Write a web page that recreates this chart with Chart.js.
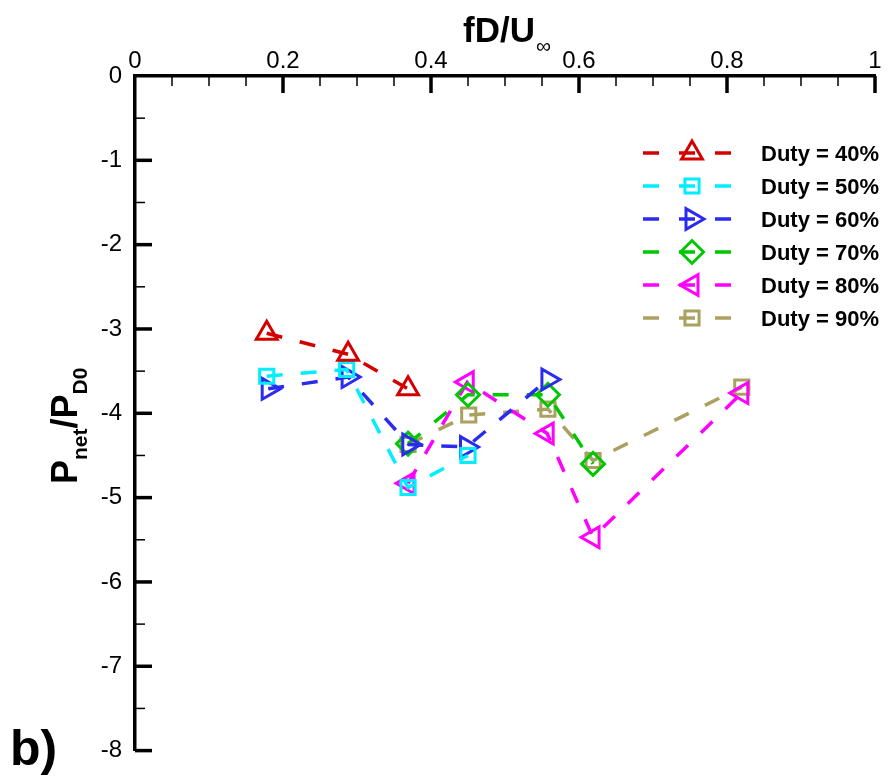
<!DOCTYPE html>
<html><head><meta charset="utf-8">
<script src="https://cdn.jsdelivr.net/npm/chart.js@4.4.1/dist/chart.umd.min.js"></script>
<style>html,body{margin:0;padding:0;background:#fff;}canvas{display:block;}</style>
</head><body>
<canvas id="c" width="890" height="778"></canvas>
<script>
// ---- data ----
const xTickValues = [0, 0.2, 0.4, 0.6, 0.8, 1];
const xTickLabels = ['0', '0.2', '0.4', '0.6', '0.8', '1'];
const yTickValues = [-8, -7, -6, -5, -4, -3, -2, -1, 0];
const yTickLabels = ['-8', '-7', '-6', '-5', '-4', '-3', '-2', '-1', '0'];
const seriesNames = ['Duty = 40%', 'Duty = 50%', 'Duty = 60%', 'Duty = 70%', 'Duty = 80%', 'Duty = 90%'];

const x40 = [0.178, 0.288, 0.369];
const y40 = [-3.05, -3.30, -3.71];
const x50 = [0.178, 0.286, 0.369, 0.450];
const y50 = [-3.56, -3.48, -4.88, -4.50];
const x60 = [0.180, 0.288, 0.370, 0.448, 0.558];
const y60 = [-3.71, -3.57, -4.37, -4.40, -3.60];
const x70 = [0.369, 0.450, 0.558, 0.619];
const y70 = [-4.36, -3.78, -3.78, -4.60];
const x80 = [0.369, 0.449, 0.557, 0.619, 0.820];
const y80 = [-4.83, -3.63, -4.24, -5.47, -3.76];
const x90 = [0.369, 0.451, 0.558, 0.619, 0.820];
const y90 = [-4.37, -4.02, -3.95, -4.56, -3.69];

// ---- styles ----
const FONT = '"Liberation Sans", Arial, Helvetica, sans-serif';
const styles = [
  {color: '#d40000', pointStyle: 'triangle', rotation: 0,   radius: 12},
  {color: '#00eeff', pointStyle: 'rect',     rotation: 0,   radius: 10},
  {color: '#2b2bf0', pointStyle: 'triangle', rotation: 90,  radius: 12},
  {color: '#00c800', pointStyle: 'rectRot',  rotation: 0,   radius: 11.5},
  {color: '#ff00ff', pointStyle: 'triangle', rotation: -90, radius: 12},
  {color: '#aaa060', pointStyle: 'rect',     rotation: 0,   radius: 10}
];
const xs = [x40, x50, x60, x70, x80, x90];
const ys = [y40, y50, y60, y70, y80, y90];

const datasets = seriesNames.map((name, i) => ({
  label: name,
  data: xs[i].map((x, j) => ({x: x, y: ys[i][j]})),
  showLine: true,
  borderColor: styles[i].color,
  backgroundColor: 'rgba(0,0,0,0)',
  borderWidth: 3.5,
  borderDash: [16, 18],
  pointStyle: styles[i].pointStyle,
  rotation: styles[i].rotation,
  pointRadius: styles[i].radius,
  pointHoverRadius: styles[i].radius,
  pointBorderWidth: 3,
  pointBorderColor: styles[i].color,
  pointBackgroundColor: 'rgba(0,0,0,0)'
}));

function drawMarker(ctx, st, x, y, r) {
  const H = Chart.helpers;
  ctx.save();
  ctx.setLineDash([]);
  ctx.strokeStyle = st.color;
  ctx.fillStyle = 'rgba(0,0,0,0)';
  ctx.lineWidth = 3;
  if (H && H.drawPoint) {
    H.drawPoint(ctx, {pointStyle: st.pointStyle, rotation: st.rotation, radius: r, borderWidth: 3}, x, y);
  }
  ctx.restore();
}

const decor = {
  id: 'decor',
  afterDraw(chart) {
    const ctx = chart.ctx, sx = chart.scales.x, sy = chart.scales.y, ca = chart.chartArea;
    ctx.save();
    ctx.strokeStyle = '#000';
    ctx.setLineDash([]);
    // x ticks (inside, from top axis)
    for (let k = 1; k <= 20; k++) {
      const v = k / 20;
      const major = k % 4 === 0;
      const px = sx.getPixelForValue(v);
      ctx.lineWidth = major ? 3.5 : 1.5;
      ctx.beginPath();
      ctx.moveTo(px, ca.top);
      ctx.lineTo(px, ca.top + (major ? 17 : 10));
      ctx.stroke();
    }
    // y ticks (inside, from left axis)
    for (let k = 1; k <= 16; k++) {
      const v = -k / 2;
      const major = k % 2 === 0;
      const py = sy.getPixelForValue(v);
      ctx.lineWidth = major ? 3.5 : 1.5;
      ctx.beginPath();
      ctx.moveTo(ca.left, py);
      ctx.lineTo(ca.left + (major ? 17 : 10), py);
      ctx.stroke();
    }
    // x title fD/U∞
    ctx.fillStyle = '#000';
    ctx.textAlign = 'left';
    ctx.textBaseline = 'alphabetic';
    ctx.font = 'bold 35px ' + FONT;
    const t1 = 'fD/U';
    ctx.fillText(t1, 463, 42);
    const w1 = ctx.measureText(t1).width;
    ctx.font = '21px ' + FONT;
    ctx.fillText('\u221E', 463 + w1 + 1, 53);
    // y title P_net/P_D0
    ctx.save();
    ctx.translate(77, 484);
    ctx.rotate(-Math.PI / 2);
    let cx = 0;
    const parts = [['P', false], ['net', true], ['/P', false], ['D0', true]];
    parts.forEach(p => {
      ctx.font = p[1] ? 'bold 21px ' + FONT : 'bold 36px ' + FONT;
      ctx.fillText(p[0], cx, p[1] ? 10 : 0);
      cx += ctx.measureText(p[0]).width;
    });
    ctx.restore();
    // panel label
    ctx.font = 'bold 50px ' + FONT;
    ctx.fillText('b)', 10, 765);
    // legend
    chart.data.datasets.forEach((ds, i) => {
      const st = styles[i];
      const ry = 153 + i * 33;
      ctx.save();
      ctx.strokeStyle = st.color;
      ctx.lineWidth = 3.5;
      ctx.setLineDash([16, 20]);
      ctx.beginPath();
      ctx.moveTo(643, ry);
      ctx.lineTo(732, ry);
      ctx.stroke();
      ctx.restore();
      drawMarker(ctx, st, 692, ry, st.radius);
      ctx.fillStyle = '#000';
      ctx.font = 'bold 22px ' + FONT;
      ctx.textAlign = 'left';
      ctx.textBaseline = 'alphabetic';
      ctx.fillText(ds.label, 761, ry + 8);
    });
    ctx.restore();
  }
};

new Chart(document.getElementById('c'), {
  type: 'scatter',
  data: {datasets: datasets},
  options: {
    responsive: false,
    animation: false,
    devicePixelRatio: 1,
    layout: {padding: {top: 0, left: 0, right: 9, bottom: 19}},
    plugins: {legend: {display: false}, tooltip: {enabled: false}},
    scales: {
      x: {
        type: 'linear', position: 'top', min: 0, max: 1,
        afterBuildTicks: s => { s.ticks = xTickValues.map(v => ({value: v})); },
        afterFit: s => { s.height = 76; },
        grid: {display: true, drawOnChartArea: false, drawTicks: false},
        border: {display: true, color: '#000', width: 3.5},
        ticks: {
          padding: 0, autoSkip: false, maxRotation: 0, color: '#000',
          font: {family: FONT, size: 24},
          callback: v => xTickLabels[xTickValues.indexOf(v)]
        }
      },
      y: {
        type: 'linear', position: 'left', min: -8, max: 0,
        afterBuildTicks: s => { s.ticks = yTickValues.map(v => ({value: v})); },
        afterFit: s => { s.width = 135; },
        grid: {display: true, drawOnChartArea: false, drawTicks: false},
        border: {display: true, color: '#000', width: 3.5},
        ticks: {
          padding: 13, autoSkip: false, color: '#000',
          font: {family: FONT, size: 24},
          callback: v => yTickLabels[yTickValues.indexOf(v)]
        }
      }
    }
  },
  plugins: [decor]
});
</script>
</body></html>
